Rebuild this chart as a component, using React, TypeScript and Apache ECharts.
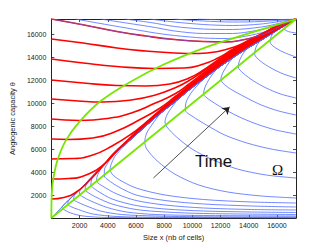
import React, { useEffect, useRef } from "react";
import * as echarts from "echarts";

const K = 17350;
const xTicks = [2000, 4000, 6000, 8000, 10000, 12000, 14000, 16000];

// Slow manifold (blue bundle) toward the equilibrium corner
const manifold: number[][] = [
  [0, 0], [1230, 1570], [2254, 2790], [3279, 4097], [4440, 5580], [5670, 6887], [6694, 8021],
  [7719, 9110], [8744, 10113], [9768, 11159], [10793, 12118], [11818, 13077], [12842, 13949],
  [13867, 14777], [14891, 15518], [15916, 16303], [16599, 16826], [K, K],
];

// Red trajectories starting on the left edge
const red1 = [[0,1656],[888,1787],[1776,2267],[2732,3313],[3620,4490],[4440,5667],[5670,7018],[6694,8151],[7719,9241],[8744,10244],[9768,11290],[10793,12249],[11818,13208],[12842,14080],[13867,14908],[14891,15649],[15916,16390],[16599,16869],[K,K]];
const red2 = [[0,3400],[1230,3444],[2459,3749],[3757,4708],[4782,6016],[5670,7105],[6694,8239],[7719,9328],[8744,10331],[9768,11377],[10793,12336],[11818,13295],[12842,14167],[13867,14995],[14891,15736],[15916,16433],[16599,16913],[K,K]];
const red3 = [[0,5144],[1571,5187],[2937,5492],[4304,6277],[5670,7323],[6694,8326],[7719,9415],[8744,10418],[9768,11464],[10793,12423],[11818,13382],[12842,14254],[13867,15065],[14891,15780],[15916,16477],[16599,16931],[K,K]];
const red4 = [[0,6887],[1230,6844],[2937,6974],[4645,7585],[6353,8631],[7719,9590],[8744,10549],[9768,11551],[10793,12510],[11818,13470],[12842,14341],[13867,15126],[14891,15823],[15916,16521],[16599,16957],[K,K]];
const red5 = [[0,8631],[1981,8503],[3962,8674],[5670,9154],[7377,10026],[8744,10810],[9768,11682],[10793,12641],[11818,13557],[12842,14428],[13867,15213],[14891,15910],[15916,16564],[16599,16974],[K,K]];
const red6 = [[0,10374],[1913,10200],[3620,10113],[5670,10287],[7377,10723],[8744,11333],[9768,11987],[10793,12816],[11818,13687],[12842,14516],[13867,15300],[14891,15954],[15916,16608],[16599,17000],[K,K]];
const red7 = [[0,12031],[2254,11769],[4645,11551],[6694,11508],[8402,11682],[9768,12205],[10793,12903],[11818,13774],[12842,14603],[13867,15344],[14891,15998],[15916,16651],[16599,17018],[K,K]];
const red8 = [[0,13862],[2254,13513],[4645,13208],[7377,13034],[9427,13077],[10793,13426],[11818,13949],[12842,14690],[13867,15387],[14891,16041],[15916,16695],[16599,17035],[K,K]];
const red9 = [[0,15605],[2254,15256],[4645,14821],[6694,14559],[8744,14385],[10451,14341],[11818,14516],[12979,14908],[14072,15518],[15028,16085],[15916,16695],[16599,17044],[K,K]];
const red10 = [[0,17350],[2323,16826],[4645,16259],[6694,15867],[8744,15562],[10793,15387],[12364,15344],[13525,15518],[14550,15823],[15438,16215],[16258,16739],[16804,17044],[K,K]];

// Blue trajectories starting on the top edge
const top1 = [[1708,17350],[3279,17000],[5328,16564],[7377,16128],[8744,15910],[10793,15692],[12501,15649],[14208,15954],[15575,16390],[16599,16913],[K,K]];
const top2 = [[3484,17350],[5328,17000],[7377,16608],[8744,16303],[10793,16085],[12842,16085],[14550,16346],[15916,16739],[K,K]];
const top3 = [[5192,17350],[7036,17044],[8744,16695],[10793,16477],[12842,16433],[14891,16651],[16258,17000],[K,K]];
const top4 = [[6968,17350],[8744,17087],[10793,16869],[12842,16782],[14891,16913],[K,K]];
const top5 = [[8675,17350],[10793,17174],[12842,17087],[14891,17131],[K,K]];
const top6 = [[10383,17350],[12842,17262],[14891,17262],[K,K]];

// Blue trajectories starting on the right edge (C-shapes)
const right1 = [[K,1744],[14891,1918],[12501,2267],[10451,2877],[8744,3836],[7514,4969],[6763,6016],[6626,6626],[6763,7410],[7173,8195],[7719,9067]];
const right2 = [[K,3487],[15233,3749],[13184,4272],[11476,5056],[9973,6016],[8880,7062],[8197,7933],[8061,8369],[8197,8980],[8607,9764],[9085,10462]];
const right3 = [[K,5667],[15575,6016],[13867,6539],[12296,7236],[10998,8108],[9973,8892],[9495,9415],[9563,10113],[9905,10898],[10451,11682]];
const right4 = [[K,7323],[15916,7672],[14550,8195],[13184,8892],[12023,9677],[11135,10374],[10793,10810],[10930,11508],[11339,12380],[11818,13077]];
const right5 = [[K,8980],[16121,9328],[14891,9851],[13730,10549],[12706,11246],[12159,11769],[12023,12118],[12227,12816],[12637,13600],[12979,14080]];
const right6 = [[K,10462],[16258,10810],[15233,11333],[14345,11944],[13594,12641],[13252,13164],[13389,13862],[13730,14559],[14072,14908]];
const right7 = [[K,12205],[16463,12554],[15575,13077],[14823,13687],[14413,14298],[14550,14995],[14891,15518]];
const right8 = [[K,14036],[16599,14385],[15916,14821],[15506,15344],[15643,15954],[15985,16390]];
const right9 = [[K,16128],[16804,16259],[16531,16477],[16736,16826],[17009,17087]];

// Blue trajectories hugging the bottom edge
const bottom1 = [[K,1308],[14208,1395],[10793,1613],[8061,2005],[6011,2615],[4850,3313],[4304,3836],[4167,4272],[4304,4882],[4577,5492]];
const bottom2 = [[K,959],[14208,1046],[10793,1221],[8061,1526],[6011,2005],[4782,2703],[4030,3313],[3757,3662],[3757,4185],[3962,4708],[4167,5187]];
const bottom3 = [[K,697],[14208,741],[10793,872],[8061,1133],[6011,1526],[4645,2092],[3620,2790],[3279,3095],[3211,3400],[3347,3923],[3620,4490]];
const bottom4 = [[K,480],[14208,523],[10793,610],[8061,785],[6011,1090],[4304,1656],[3279,2354],[2937,2659],[2801,2877],[2869,3400],[3142,3880]];
const bottom5 = [[K,305],[10793,392],[8061,523],[6011,741],[4304,1221],[3142,1831],[2596,2223],[2391,2485],[2459,2877],[2664,3269]];
const bottom6 = [[K,174],[10793,218],[7377,305],[5328,523],[3962,915],[2801,1482],[2186,1874],[1981,2092],[2049,2441]];
const bottom7 = [[K,87],[10793,105],[7377,174],[4987,305],[3484,610],[2323,1133],[1776,1438],[1571,1613],[1639,1962]];
const bottom8 = [[K,35],[7377,61],[4645,131],[2937,349],[1913,741],[1366,1003],[1161,1221],[1230,1526]];
const bottom9 = [[K,17],[7377,26],[3962,44],[2254,174],[1366,436],[888,741],[751,915],[820,1090]];

// Green nullclines
const nullDiag = [[0, 0], [K, K]];
const nullCurve = [[0,0],[20,1800],[100,3100],[400,4900],[1000,6700],[2000,8400],[3500,10200],[5500,11800],[8000,13400],[11000,14900],[14000,16100],[K,K]];

// "Time" arrow
const arrowFrom = [7240, 3490];
const arrowTo = [12640, 9680];

const reds = [red1, red2, red3, red4, red5, red6, red7, red8, red9, red10];
const tops = [top1, top2, top3, top4, top5, top6];
const rights = [right1, right2, right3, right4, right5, right6, right7, right8, right9];
const bottoms = [bottom1, bottom2, bottom3, bottom4, bottom5, bottom6, bottom7, bottom8, bottom9];

function withTail(pts: number[][]): number[][] {
  const last = pts[pts.length - 1];
  const tail = manifold.filter((p) => p[0] > last[0] + 200 && p[1] > last[1] + 200);
  return pts.concat(tail);
}

const BLUE = "#4d6bff";
const RED = "#ff0000";
const GREEN = "#77e600";
const AX = "#222";
const FONT = "'Liberation Sans', Arial, sans-serif";

export default function App() {
  const ref = useRef<HTMLDivElement>(null);
  useEffect(() => {
    if (!ref.current) return;
    const chart = echarts.init(ref.current, undefined, { renderer: "svg" });
    const line = (data: number[][], color: string, width: number, z: number, smooth = 0.3) => ({
      type: "line",
      data,
      showSymbol: false,
      symbol: "none",
      smooth,
      lineStyle: { color, width },
      z,
      silent: true,
    });
    const series: any[] = [];
    series.push(line(manifold, BLUE, 0.8, 2));
    tops.forEach((d) => series.push(line(d, BLUE, 0.8, 2)));
    rights.forEach((d) => series.push(line(withTail(d), BLUE, 0.8, 2)));
    bottoms.forEach((d) => series.push(line(withTail(d), BLUE, 0.8, 2)));
    reds.forEach((d) => series.push(line(d, RED, 1.6, 3, 0.5)));
    series.push(line(red10, BLUE, 0.7, 3.5, 0.5));
    series.push(line(nullDiag, GREEN, 1.8, 4));
    series.push(line(nullCurve, GREEN, 1.8, 4));
    series.push({
      type: "lines",
      coordinateSystem: "cartesian2d",
      z: 5,
      silent: true,
      symbol: ["none", "arrow"],
      symbolSize: 7,
      lineStyle: { color: "#222", width: 0.8, opacity: 1, curveness: 0 },
      data: [{ coords: [arrowFrom, arrowTo] }],
    });

    const axisCommon = {
      type: "value",
      min: 0,
      max: K,
      interval: 2000,
      axisLine: { show: true, onZero: false, lineStyle: { color: AX, width: 1 } },
      axisTick: { show: true, inside: true, length: 3, lineStyle: { color: AX, width: 0.8 } },
      splitLine: { show: false },
    };
    const labelCommon = {
      fontSize: 7,
      color: AX,
      fontFamily: FONT,
      showMinLabel: false,
      showMaxLabel: false,
      formatter: (v: number) => (xTicks.indexOf(v) >= 0 ? String(v) : ""),
    };

    chart.setOption({
      animation: false,
      backgroundColor: "#fff",
      grid: { left: 42, right: 31, top: 19, bottom: 29, containLabel: false },
      xAxis: [
        {
          ...axisCommon,
          position: "bottom",
          axisLabel: { ...labelCommon, margin: 4 },
          name: "Size x (nb of cells)",
          nameLocation: "middle",
          nameGap: 12,
          nameTextStyle: { fontSize: 7.5, color: AX, fontFamily: FONT },
        },
        { ...axisCommon, position: "top", axisLabel: { show: false } },
      ],
      yAxis: [
        {
          ...axisCommon,
          position: "left",
          axisLabel: { ...labelCommon, margin: 5 },
          name: "Angiogenic capacity θ",
          nameLocation: "middle",
          nameGap: 27,
          nameRotate: 90,
          nameTextStyle: { fontSize: 7.5, color: AX, fontFamily: FONT },
        },
        { ...axisCommon, position: "right", axisLabel: { show: false } },
      ],
      series,
      graphic: [
        { type: "text", left: 195, top: 153, style: { text: "Time", font: "17px 'Liberation Sans', Arial, sans-serif", fill: "#111" }, z: 10 },
        { type: "text", left: 272, top: 162, style: { text: "Ω", font: "15px 'Liberation Serif', serif", fill: "#111" }, z: 10 },
      ],
    });
    return () => chart.dispose();
  }, []);
  return (
    <div
      ref={ref}
      style={{ position: "fixed", left: 0, top: 0, width: 327, height: 247, background: "#fff" }}
    />
  );
}
